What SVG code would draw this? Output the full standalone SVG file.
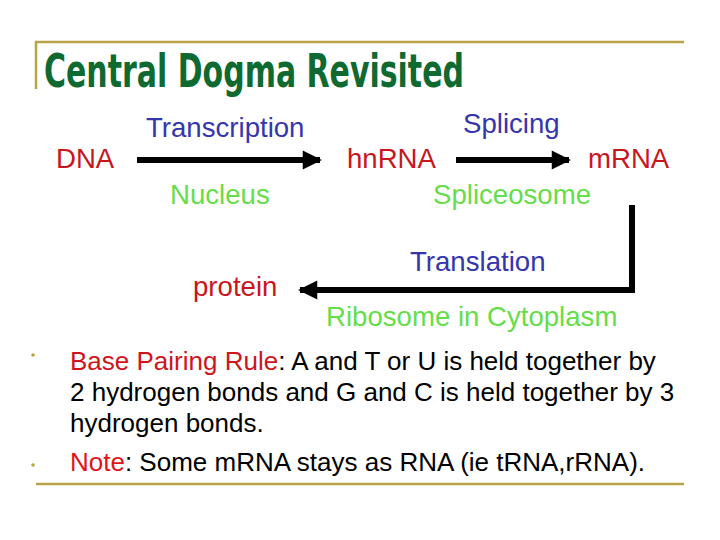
<svg xmlns="http://www.w3.org/2000/svg" width="720" height="540" viewBox="0 0 720 540">
<style>
.t{font-family:"Liberation Sans",Arial,sans-serif;font-size:27.6px}
.red{fill:#c8161d}
.blue{fill:#3535b0}
.grn{fill:#66dd4a}
.b{font-family:"Liberation Sans",Arial,sans-serif;font-size:26px;fill:#000}
.rule{stroke:#b8a446;stroke-width:2.5;fill:none}
.con{stroke:#000;stroke-width:6;fill:none}
</style>
<defs>
<marker id="ah" viewBox="0 0 10 10" refX="9" refY="5" markerWidth="3.4" markerHeight="3.2" orient="auto" markerUnits="strokeWidth">
<path d="M0,0 L10,5 L0,10 z" fill="#000"/>
</marker>
</defs>
<rect width="720" height="540" fill="#fff"/>
<g id="frame">
<path class="rule" d="M36,89 V42 H684"/>
<path class="rule" d="M36,484 H684"/>
</g>
<g id="title">
<text x="44" y="87" font-family="'Liberation Sans Narrow','DejaVu Sans Condensed','Liberation Sans',sans-serif" font-weight="bold" font-size="47" fill="#0e6a30" textLength="420" lengthAdjust="spacingAndGlyphs">Central Dogma Revisited</text>
</g>
<g id="connectors">
<path class="con" d="M137,160 H320" marker-end="url(#ah)"/>
<path class="con" d="M456,160 H569" marker-end="url(#ah)"/>
<path class="con" d="M632,205 V290 H300" marker-end="url(#ah)"/>
</g>
<g id="dna"><text class="t red" x="56" y="168">DNA</text></g>
<g id="transcription"><text class="t blue" x="146" y="137">Transcription</text><text class="t grn" x="170" y="204">Nucleus</text></g>
<g id="hnrna"><text class="t red" x="347" y="168">hnRNA</text></g>
<g id="splicing"><text class="t blue" x="463" y="133">Splicing</text><text class="t grn" x="433" y="204">Spliceosome</text></g>
<g id="mrna"><text class="t red" x="588" y="168">mRNA</text></g>
<g id="translation"><text class="t blue" x="410" y="271">Translation</text><text class="t grn" x="326" y="326">Ribosome in Cytoplasm</text></g>
<g id="protein"><text class="t red" x="193" y="296">protein</text></g>
<g id="bullets">
<circle cx="33" cy="355" r="1.8" fill="#b8a446"/>
<circle cx="33" cy="465" r="1.8" fill="#b8a446"/>
<text class="b" x="70" y="370"><tspan fill="#d0141b">Base Pairing Rule</tspan>: A and T or U is held together by</text>
<text class="b" x="70" y="401">2 hydrogen bonds and G and C is held together by 3</text>
<text class="b" x="70" y="432">hydrogen bonds.</text>
<text class="b" x="70" y="471"><tspan fill="#e0141b">Note</tspan>: Some mRNA stays as RNA (ie tRNA,rRNA).</text>
</g>
</svg>
